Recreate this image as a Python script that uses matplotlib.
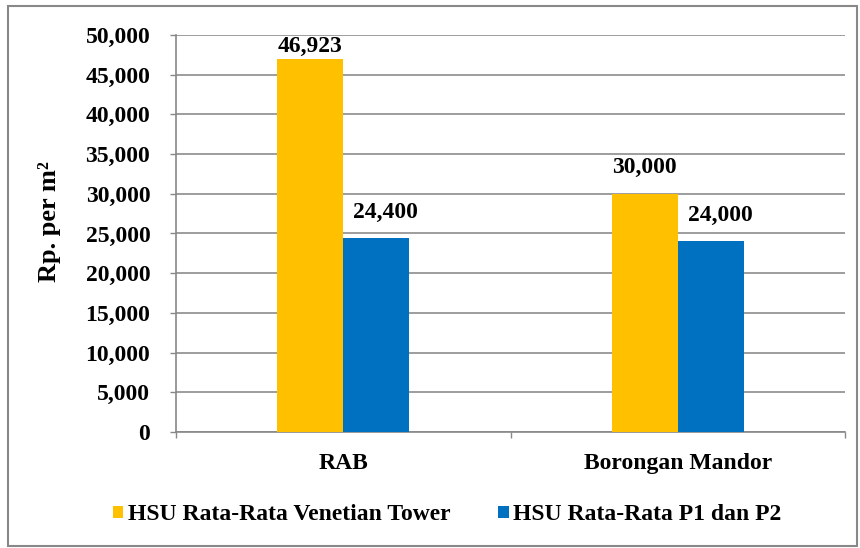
import numpy as np
import matplotlib
matplotlib.use("Agg")
import matplotlib.pyplot as plt
from matplotlib.patches import Rectangle
from matplotlib.ticker import FuncFormatter

categories = ["RAB", "Borongan Mandor"]
series_names = ["HSU Rata-Rata Venetian Tower", "HSU Rata-Rata P1 dan P2"]
venetian = [46923, 30000]
p1p2 = [24400, 24000]
colors = ["#FFC000", "#0070C0"]

plt.rcParams['font.family'] = ['Liberation Serif', 'DejaVu Serif']
plt.rcParams['font.weight'] = 'bold'

fig = plt.figure(figsize=(8.6, 5.48), dpi=100)
ax = fig.add_axes([176/860, 1-432/548, (845-176)/860, (432-35)/548])

x = np.arange(len(categories))
w = 0.197
b1 = ax.bar(x - w/2, venetian, w, color=colors[0], label=series_names[0], zorder=3)
b2 = ax.bar(x + w/2, p1p2, w, color=colors[1], label=series_names[1], zorder=3)

ymax = 50000
for bars, dx in ((b1, 0), (b2, 7)):
    for r in bars:
        h = r.get_height()
        # labels sit above the bar, but stay inside the plot area
        ax.annotate(f"{int(h):,}", (r.get_x() + r.get_width()/2, min(h + 3300, ymax - 1400)),
                    xytext=(dx, 0), textcoords="offset points",
                    ha="center", va="center", fontsize=17, fontweight="bold", zorder=4)

ax.set_ylim(0, ymax)
ax.set_xlim(-0.5, 1.5)
ax.set_yticks(np.arange(0, ymax + 1, 5000))
ax.yaxis.set_major_formatter(FuncFormatter(lambda v, p: f"{int(v):,}"))
ax.set_xticks([-0.5, 0.5, 1.5])
ax.set_xticklabels([])
ax.set_xticks(x, minor=True)
ax.set_xticklabels(categories, minor=True)
ax.tick_params(axis="x", which="minor", length=0, pad=15, labelsize=17)
ax.tick_params(axis="x", which="major", length=4.5, color="#888888", width=1)
ax.tick_params(axis="y", length=4.5, color="#888888", width=1, labelsize=17, pad=14)
ax.grid(axis="y", color="#8c8c8c", linewidth=1.2, zorder=0)
for s in ["top", "right"]:
    ax.spines[s].set_visible(False)
for s in ["left", "bottom"]:
    ax.spines[s].set_color("#888888")
    ax.spines[s].set_linewidth(1.2)

ax.set_ylabel("Rp. per m²", fontsize=19, fontweight="bold")
ax.yaxis.set_label_coords(-115/669, 0.53)

fig.legend(handles=[b1, b2], loc="center", bbox_to_anchor=(0.52, 1-515/548), ncol=2,
           frameon=False, fontsize=17, handlelength=0.45, handleheight=0.45,
           handletextpad=0.2, columnspacing=2.0)

fig.patches.append(Rectangle((8/860, 2/548), 849/860, 540/548, transform=fig.transFigure,
                             fill=False, edgecolor="#888888", linewidth=1.5))

fig.savefig("out.png", dpi=100)
